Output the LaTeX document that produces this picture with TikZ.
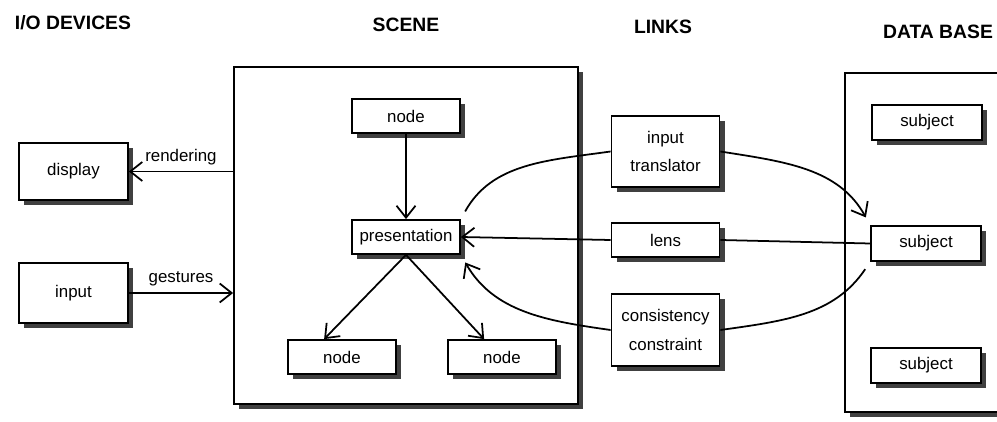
\documentclass[tikz,border=0pt]{standalone}
\usepackage{fontspec}
\setmainfont{Liberation Sans}
\usetikzlibrary{arrows.meta}
\usetikzlibrary{shadows}

\begin{document}
\begin{tikzpicture}[line width=1pt,
  >={Straight Barb[length=2.4mm,width=3.8mm]},
  box/.style={draw,fill=white,drop shadow={shadow xshift=0.1cm,shadow yshift=-0.1cm,fill=black!75,opacity=1}},
  item/.style={box,minimum width=2.16cm,minimum height=0.68cm,align=center,font=\fontsize{9.6}{16}\selectfont},
  lbl/.style={font=\fontsize{9.6}{12}\selectfont},
  title/.style={font=\fontsize{11}{13}\selectfont\bfseries}]
\useasboundingbox (0,0) rectangle (19.94,-8.44);
\clip (0,0) rectangle (19.94,-8.44);
\draw (1.46,-0.45) node (tio) [title] {I/O DEVICES};
\draw (8.12,-0.5) node (tscene) [title] {SCENE};
\draw (13.26,-0.53) node (tlinks) [title] {LINKS};
\draw (18.76,-0.63) node (tdata) [title] {DATA BASE};
\draw (8.12,-4.71) node (scene) [box,minimum width=6.88cm,minimum height=6.74cm] {};
\draw (18.6,-4.85) node (dbase) [box,minimum width=3.4cm,minimum height=6.78cm] {};
\draw (1.47,-3.43) node (display) [item,minimum width=2.18cm,minimum height=1.14cm] {display};
\draw (1.47,-5.86) node (input) [item,minimum width=2.18cm,minimum height=1.2cm] {input};
\draw (8.12,-2.32) node (top) [item] {node};
\draw (8.12,-4.74) node (pres) [item] {presentation};
\draw (6.84,-7.14) node (left) [item] {node};
\draw (10.04,-7.14) node (right) [item] {node};
\draw (13.31,-3.03) node (trans) [item,minimum height=1.42cm] {input\\translator};
\draw (13.31,-4.8) node (lens) [item] {lens};
\draw (13.31,-6.6) node (cons) [item,minimum height=1.44cm] {consistency\\constraint};
\draw (18.54,-2.45) node (subj1) [item,minimum width=2.2cm,minimum height=0.7cm] {subject};
\draw (18.52,-4.87) node (subj2) [item,minimum width=2.2cm,minimum height=0.7cm] {subject};
\draw (18.52,-7.31) node (subj3) [item,minimum width=2.2cm,minimum height=0.7cm] {subject};
\draw[->] (scene.west |- display.east) -- node[lbl,above] {rendering} (display.east);
\draw[->] (input.east) -- node[lbl,above] {gestures} (scene.west |- input.east);
\draw[->] (top.south) -- (pres.north);
\draw[->] (pres.south) -- (left.135);
\draw[->] (pres.south) -- (right.135);
\draw (subj2.west) -- (lens.east);
\draw[->] (lens.west) -- (pres.east);
\draw[shorten <=5pt] (pres.north east) to[out=61,in=188] (trans.west);
\draw[->,shorten >=5pt] (trans.east) to[out=-9,in=119] (subj2.north west);
\draw[shorten <=5pt] (subj2.south west) to[out=236,in=8] (cons.east);
\draw[->,shorten >=5pt] (cons.west) to[out=172,in=-60] (pres.south east);
\end{tikzpicture}
\end{document}
